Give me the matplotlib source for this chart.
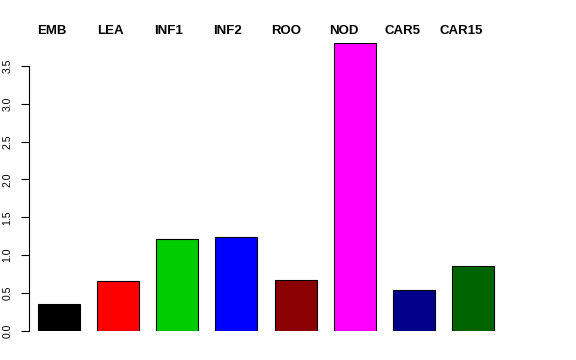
"""Bar chart of per-tissue values, R barplot look."""

import matplotlib

matplotlib.use("Agg")
import matplotlib.pyplot as plt

# ---------------------------------------------------------------------------
# Data
# ---------------------------------------------------------------------------
TISSUES = ["EMB", "LEA", "INF1", "INF2", "ROO", "NOD", "CAR5", "CAR15"]
VALUES = [0.35, 0.66, 1.21, 1.24, 0.67, 3.80, 0.54, 0.86]
COLORS = ["#000000", "#ff0000", "#00cd00", "#0000ff", "#8b0000", "#ff00ff",
          "#00008b", "#006400"]
YTICKS = [0.0, 0.5, 1.0, 1.5, 2.0, 2.5, 3.0, 3.5]

FONT = "Liberation Sans"


def _style_ax(ax) -> None:
    """Base-R style: only a left axis spanning the tick range."""
    for side in ("top", "right", "bottom"):
        ax.spines[side].set_visible(False)
    ax.spines["left"].set_bounds(YTICKS[0], YTICKS[-1])
    ax.spines["left"].set_linewidth(0.8)
    ax.set_xticks([])
    ax.set_yticks(YTICKS)
    ax.set_yticklabels([f"{t:.1f}" for t in YTICKS], rotation=90,
                       va="center", fontsize=7.5, family=FONT)
    ax.tick_params(axis="y", length=5.5, width=0.8, pad=6.5)


def plot_barplot() -> None:
    fig = plt.figure(figsize=(5.76, 3.6), dpi=100)
    ax = fig.add_axes([29 / 576, 29 / 360, 474 / 576, 288 / 360])
    pos = list(range(len(TISSUES)))

    ax.bar(pos, VALUES, width=0.712, color=COLORS, edgecolor="black",
           linewidth=0.8)
    ax.set_xlim(-0.508, len(TISSUES) - 0.492)
    ax.set_ylim(0, max(VALUES))

    # Names sit in a row above the panel, slightly left of each bar.
    for p, name in zip(pos, TISSUES):
        ax.text(p * 0.988 - 0.12, 1.022, name,
                transform=ax.get_xaxis_transform(),
                ha="center", va="bottom", fontsize=9.5, fontweight="bold",
                family=FONT, clip_on=False)

    _style_ax(ax)
    fig.savefig("out.png", dpi=100)
    plt.close(fig)


if __name__ == "__main__":
    plot_barplot()
